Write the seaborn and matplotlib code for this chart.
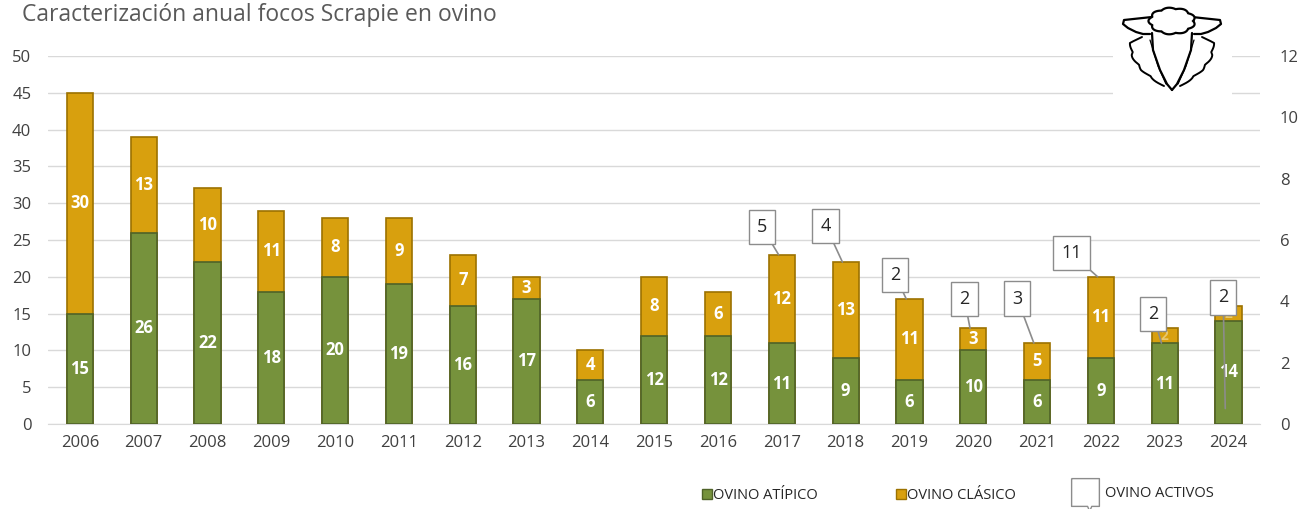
import numpy as np
import pandas as pd
import matplotlib
matplotlib.use("Agg")
import matplotlib.pyplot as plt
import seaborn as sns
from matplotlib.lines import Line2D
from matplotlib.path import Path

years = [str(y) for y in range(2006, 2025)]
atipico = [15, 26, 22, 18, 20, 19, 16, 17, 6, 12, 12, 11, 9, 6, 10, 6, 9, 11, 14]
clasico = [30, 13, 10, 11, 8, 9, 7, 3, 4, 8, 6, 12, 13, 11, 3, 5, 11, 2, 2]
activos_years = ["2017", "2018", "2019", "2020", "2021", "2022", "2023", "2024"]
activos = [5, 4, 2, 2, 3, 11, 2, 2]

GREEN = "#76923C"
GREEN_EDGE = "#4F6228"
GOLD = "#D8A00E"
GOLD_EDGE = "#9C7200"

sns.set_style("white")
plt.rcParams["font.family"] = ["Open Sans", "DejaVu Sans"]

df = pd.DataFrame({"year": years, "atipico": atipico, "clasico": clasico})
df["total"] = df.atipico + df.clasico

fig = plt.figure(figsize=(12.98, 5.09), dpi=100)
ax = fig.add_axes([0.037, 0.167, 0.934, 0.723])

# stacked: total first (gold), then atipico on top (green)
sns.barplot(data=df, x="year", y="total", color=GOLD, width=0.41,
            edgecolor=GOLD_EDGE, linewidth=1.2, saturation=1, ax=ax, zorder=3)
sns.barplot(data=df, x="year", y="atipico", color=GREEN, width=0.41,
            edgecolor=GREEN_EDGE, linewidth=1.2, saturation=1, ax=ax, zorder=4)

ax.set_ylim(0, 50)
ax.set_xlim(-0.5, 18.5)
ax.set_yticks(range(0, 51, 5))
ax.yaxis.grid(True, color="#D9D9D9", linewidth=1)
ax.set_axisbelow(True)
for s in ["top", "right", "left"]:
    ax.spines[s].set_visible(False)
ax.spines["bottom"].set_color("#D9D9D9")
ax.set_xlabel("")
ax.set_ylabel("")
ax.tick_params(axis="both", length=0, labelsize=12, colors="#404040")
ax.tick_params(axis="x", pad=8)
ax.tick_params(axis="y", pad=12)

# labels inside bars
for i, row in df.iterrows():
    ax.text(i, row.atipico / 2, str(row.atipico), ha="center", va="center",
            color="white", fontsize=12, fontweight="bold", zorder=6)
    if row.clasico > 2:
        ax.text(i, row.atipico + row.clasico / 2, str(row.clasico), ha="center",
                va="center", color="white", fontsize=12, fontweight="bold", zorder=6)
    else:
        ax.text(i, row.atipico + row.clasico / 2, str(row.clasico), ha="center",
                va="center", color="#E8C870", fontsize=10, fontweight="bold", zorder=6)

# secondary axis
ax2 = ax.twinx()
ax2.set_ylim(0, 12)
ax2.set_yticks(range(0, 13, 2))
for s in ax2.spines.values():
    s.set_visible(False)
ax2.tick_params(axis="y", length=0, labelsize=12, colors="#404040", pad=14)

# callouts for ovino activos
callout_offsets = [(-12, 20), (-12, 26), (-8, 17), (-4, 21), (-12, 32),
                   (-19, 17), (-6, 21), (-1.5, 80)]
for yr, val, off in zip(activos_years, activos, callout_offsets):
    i = years.index(yr)
    r = df.iloc[i]
    tip_y = r.total
    if yr == "2023":
        tip_y = r.atipico
    if yr == "2024":
        tip_y = r.atipico * 0.15
    ax.annotate(str(val), xy=(i - 0.05, tip_y), xytext=off,
                textcoords="offset points", ha="center", va="center",
                fontsize=13, color="#262626", zorder=8,
                bbox=dict(boxstyle="square,pad=0.45", fc="white", ec="#8C8C8C", lw=1),
                arrowprops=dict(arrowstyle="-", color="#8C8C8C", lw=1.2,
                                shrinkA=0, shrinkB=0))

fig.text(0.017, 1 - 21 / 509, "Caracterización anual focos Scrapie en ovino",
         fontsize=16.5, color="#595959", ha="left", va="baseline")

# sheep logo (drawn in pixel coordinates of the figure)
lax = fig.add_axes([1113 / 1298, 1 - 100 / 509, 119 / 1298, 100 / 509])
lax.set_xlim(1113, 1232)
lax.set_ylim(100, 0)
lax.axis("off")
lax.add_patch(plt.Rectangle((1113, 0), 119, 100, fc="white", ec="none", zorder=0))
t = np.linspace(0, 2 * np.pi, 400)
rr = 1 + 0.12 * np.abs(np.sin(4.5 * t))
lax.fill(1172 + 21 * rr * np.cos(t), 21 + 12 * rr * np.sin(t), fc="white",
         ec="black", lw=1.6, zorder=3)
s = np.linspace(0, 1, 200)
for sgn in (-1, 1):
    ex = lambda x: 1172 + sgn * np.asarray(x)
    # ear
    lax.plot(ex([20, 48, 49, 44, 36, 29, 22]), [17, 20, 24, 28, 32, 34, 34],
             color="black", lw=1.6)
    # side wool
    wx = np.interp(s, [0, 0.1, 0.3, 0.45, 0.6, 0.8, 1.0],
                   [30, 40, 39, 35, 29, 19, 8])
    wy = np.interp(s, [0, 0.1, 0.3, 0.45, 0.6, 0.8, 1.0],
                   [37, 43, 55, 62, 70, 78, 86])
    bump = 2.2 * np.abs(np.sin(4 * np.pi * s))
    lax.plot(ex(wx + bump), wy, color="black", lw=1.4)
    # face
    lax.plot(ex([20, 19, 12, 5, 0]), [33, 50, 70, 84, 90], color="black", lw=1.6)
    lax.plot(ex([22, 14, 6]), [40, 66, 84], color="black", lw=0.9)

# callout-shaped legend marker
callout_marker = Path([(-1, 1), (1, 1), (1, -1), (0.45, -1), (0.3, -1.35),
                       (0.15, -1), (-1, -1), (-1, 1)])

leg1 = fig.legend(
    [Line2D([], [], marker="s", ls="", markersize=7, mfc=GREEN, mec=GREEN_EDGE),
     Line2D([], [], marker="s", ls="", markersize=7, mfc=GOLD, mec=GOLD_EDGE)],
    ["OVINO ATÍPICO", "OVINO CLÁSICO"],
    loc="center left", bbox_to_anchor=(0.536, 0.026), borderaxespad=0, ncol=2,
    frameon=False, fontsize=10.5, handlelength=0.8, handletextpad=0.0,
    columnspacing=5.3, labelcolor="#262626")
leg2 = fig.legend(
    [Line2D([], [], marker=callout_marker, ls="", markersize=27, mfc="white",
            mec="#8C8C8C", mew=1)],
    ["OVINO ACTIVOS"],
    loc="center left", bbox_to_anchor=(0.82, 0.03), borderaxespad=0,
    frameon=False, fontsize=10.5, handlelength=2, handletextpad=0.4,
    labelcolor="#262626")

fig.savefig("out.png", dpi=100)
